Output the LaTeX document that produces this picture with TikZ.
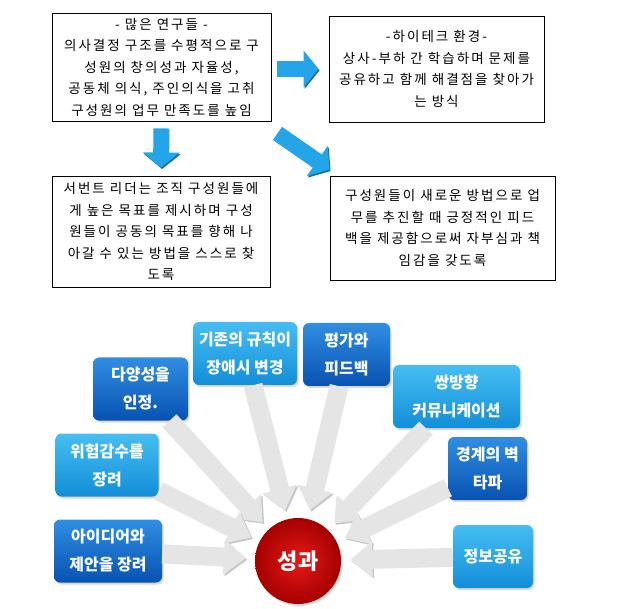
\documentclass[tikz,border=0pt]{standalone}
\usepackage{fontspec}
\setmainfont{Noto Sans CJK KR}
\newfontfamily\notefont[LetterSpace=15]{Noto Sans CJK KR}
\usetikzlibrary{arrows.meta,shadows}

\definecolor{flowblue}{RGB}{35,165,232}
\definecolor{flowedge}{RGB}{15,105,185}
\definecolor{deeptop}{RGB}{48,142,226}
\definecolor{deepbot}{RGB}{8,82,178}
\definecolor{paletop}{RGB}{70,190,242}
\definecolor{palebot}{RGB}{18,142,216}
\definecolor{goalin}{RGB}{230,25,25}
\definecolor{goalout}{RGB}{165,0,0}

\begin{document}
\begin{tikzpicture}[x=1pt, y=-1pt,
    note/.style={draw, line width=0.9pt, rectangle, align=center, inner sep=0pt,
                 font=\notefont\fontsize{13.5}{21.5}\selectfont},
    deep/.style={rectangle, rounded corners=6pt, minimum height=63pt, align=center,
                 top color=deeptop, bottom color=deepbot, text=white,
                 font=\bfseries\fontsize{16}{28}\selectfont,
                 drop shadow={opacity=0.3, shadow xshift=1.5pt, shadow yshift=-2pt}},
    pale/.style={deep, top color=paletop, bottom color=palebot},
    goal/.style={circle, minimum size=86pt, inner color=goalin, outer color=goalout,
                 text=white, font=\bfseries\fontsize{22}{26}\selectfont,
                 drop shadow={opacity=0.3, shadow xshift=1.5pt, shadow yshift=-2pt}},
    flowarrow/.style={line width=16pt, flowblue, -{Triangle[width=36pt, length=15pt]},
                      preaction={draw=flowedge, transform canvas={shift={(1pt,-1.5pt)}}}},
    pointer/.style={line width=19pt, gray!20, -{Triangle[width=34pt, length=22pt]},
                    shorten >=9pt,
                    preaction={draw=gray!45, transform canvas={shift={(1.5pt,-1.5pt)}}}}
]
    \useasboundingbox (0,0) rectangle (621,609);

    % upper part: findings
    \node[note, minimum width=219pt, minimum height=108pt] (b1) at (161.5, 67)
        {- 많은 연구들 -\\의사결정 구조를 수평적으로 구\\성원의 창의성과 자율성,\\공동체 의식, 주인의식을 고취\\구성원의 업무 만족도를 높임};
    \node[note, minimum width=215pt, minimum height=106pt] (b2) at (436.5, 69)
        {-하이테크 환경-\\상사-부하 간 학습하며 문제를\\공유하고 함께 해결점을 찾아가\\는 방식};
    \node[note, minimum width=218pt, minimum height=111pt] (b3) at (161, 231.5)
        {서번트 리더는 조직 구성원들에\\게 높은 목표를 제시하며 구성\\원들이 공동의 목표를 향해 나\\아갈 수 있는 방법을 스스로 찾\\도록};
    \node[note, minimum width=225pt, minimum height=104pt] (b4) at (442.5, 228)
        {구성원들이 새로운 방법으로 업\\무를 추진할 때 긍정적인 피드\\백을 제공함으로써 자부심과 책\\임감을 갖도록};

    \draw[flowarrow, shorten <=6pt, shorten >=10pt] (b1.east |- b2.west) -- (b2.west);
    \draw[flowarrow, shorten <=7pt, shorten >=8pt] (b1.south) -- (b3.north);
    \draw[flowarrow] ([shift={(6,12)}]b1.south east) -- ([shift={(0,-6)}]b4.north west);

    % lower part: factors of performance
    \node[goal] (sg) at (298, 561) {성과};

    \node[deep, minimum width=95pt]  (d1) at (140.5, 389) {다양성을\\인정.};
    \node[pale, minimum width=104pt] (d2) at (245, 353.5) {기존의 규칙이\\장애시 변경};
    \node[deep, minimum width=87pt]  (d3) at (346.5, 354.5) {평가와\\피드백};
    \node[pale, minimum width=127pt] (d4) at (456.5, 396.5) {쌍방향\\커뮤니케이션};
    \node[deep, minimum width=79pt]  (d5) at (487.5, 468.5) {경계의 벽\\타파};
    \node[pale, minimum width=80pt]  (d6) at (493, 556.5) {정보공유};
    \node[pale, minimum width=103pt] (d7) at (107, 465) {위험감수를\\장려};
    \node[deep, minimum width=108pt] (d8) at (108, 551) {아이디어와\\제안을 장려};

    \draw[pointer] (d1) -- (sg);
    \draw[pointer] (d2) -- (sg);
    \draw[pointer] (d3) -- (sg);
    \draw[pointer] (d4) -- (sg);
    \draw[pointer] (d5) -- (sg);
    \draw[pointer] (d6) -- (sg);
    \draw[pointer] (d7) -- (sg);
    \draw[pointer] (d8) -- (sg);
\end{tikzpicture}
\end{document}
